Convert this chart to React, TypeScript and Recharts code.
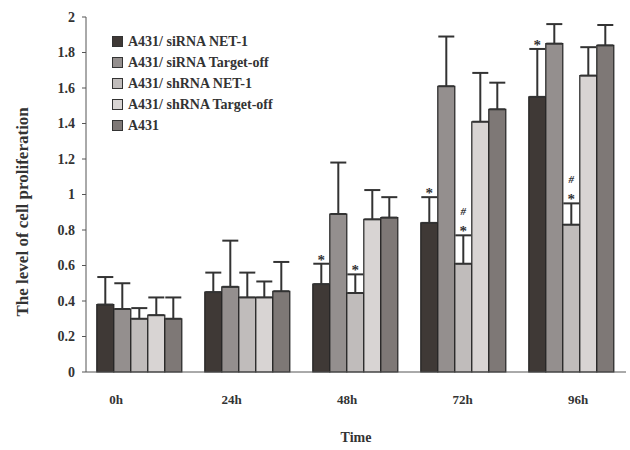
import React from 'react';
import { BarChart, Bar, XAxis, YAxis, ErrorBar, LabelList } from 'recharts';

const categories = ['0h', '24h', '48h', '72h', '96h'];
const seriesNames = [
  'A431/ siRNA NET-1',
  'A431/ siRNA Target-off',
  'A431/ shRNA NET-1',
  'A431/ shRNA Target-off',
  'A431',
];
const siNet1 = [0.38, 0.45, 0.495, 0.84, 1.55];
const siNet1Err = [0.155, 0.11, 0.115, 0.145, 0.27];
const siOff = [0.355, 0.48, 0.89, 1.61, 1.85];
const siOffErr = [0.145, 0.26, 0.29, 0.28, 0.11];
const shNet1 = [0.3, 0.42, 0.445, 0.61, 0.83];
const shNet1Err = [0.06, 0.14, 0.105, 0.16, 0.12];
const shOff = [0.32, 0.42, 0.86, 1.41, 1.67];
const shOffErr = [0.1, 0.09, 0.165, 0.275, 0.16];
const a431 = [0.3, 0.455, 0.87, 1.48, 1.84];
const a431Err = [0.12, 0.165, 0.115, 0.15, 0.115];
const siNet1Marks = ['', '', '*', '*', '*'];
const shNet1Marks = ['', '', '*', '*#', '*#'];
const yTicks = [0, 0.2, 0.4, 0.6, 0.8, 1, 1.2, 1.4, 1.6, 1.8, 2];

const colors = ['#3f3936', '#948f8e', '#c0bcbb', '#d8d4d3', '#7e7876'];

const means = [siNet1, siOff, shNet1, shOff, a431];
const errs = [siNet1Err, siOffErr, shNet1Err, shOffErr, a431Err];

const data = categories.map((c, i) => {
  const row: any = { name: c, m0: siNet1Marks[i], m2: shNet1Marks[i] };
  means.forEach((arr, s) => {
    row['s' + s] = arr[i];
    row['e' + s] = [0, errs[s][i]];
  });
  return row;
});

const FONT = '"Liberation Serif", "Times New Roman", serif';

const markRenderer = (valArr: number[], errArr: number[]) => (props: any) => {
  const { x, y, width, height, value, index } = props;
  if (!value) return null;
  const pxPerUnit = height / valArr[index];
  const capY = y - errArr[index] * pxPerUnit;
  const chars = String(value).split('');
  return (
    <g>
      {chars.map((ch, k) => (
        <text
          key={k}
          x={x + width / 2}
          y={ch === '*' ? capY + 1 : capY - 20}
          textAnchor="middle"
          fontFamily={FONT}
          fontWeight="bold"
          fontStyle={ch === '#' ? 'italic' : 'normal'}
          fontSize={ch === '*' ? 15 : 11}
          fill="#333"
          stroke="none"
        >
          {ch}
        </text>
      ))}
    </g>
  );
};

const XTick = (props: any) => {
  const { x, y, payload, index } = props;
  const shift = (index - 2) * 7.5 - 9;
  return (
    <text
      x={x + shift}
      y={y + 24}
      textAnchor="middle"
      fontFamily={FONT}
      fontWeight="bold"
      fontSize={13}
      fill="#333"
    >
      {payload.value}
    </text>
  );
};

const LegendBox = () => (
  <div
    style={{
      position: 'absolute',
      left: 112,
      top: 31,
      fontFamily: FONT,
      fontWeight: 'bold',
      fontSize: 14,
      color: '#333',
    }}
  >
    {seriesNames.map((n, i) => (
      <div key={n} style={{ display: 'flex', alignItems: 'center', height: 21 }}>
        <span
          style={{
            display: 'inline-block',
            width: 9,
            height: 9,
            background: colors[i],
            border: '1.5px solid #333',
            marginRight: 5,
          }}
        />
        <span>{n}</span>
      </div>
    ))}
  </div>
);

export default function App() {
  return (
    <div style={{ position: 'absolute', left: 0, top: 0, width: 630, height: 450, background: '#fff' }}>
      <BarChart
        width={630}
        height={450}
        data={data}
        margin={{ top: 17, right: 4, left: 0, bottom: 0 }}
        barGap={0}
        barCategoryGap="10%"
      >
        <XAxis
          dataKey="name"
          height={78}
          stroke="#555"
          tickLine={false}
          tick={<XTick />}
          label={{
            value: 'Time',
            position: 'insideBottom',
            offset: 8,
            style: { fontFamily: FONT, fontWeight: 'bold', fontSize: 14, fill: '#333' },
          }}
        />
        <YAxis
          width={86}
          domain={[0, 2]}
          ticks={yTicks}
          stroke="#555"
          tickSize={4}
          tickMargin={7}
          tick={{ fontFamily: FONT, fontWeight: 'bold', fontSize: 14, fill: '#333' }}
          label={{
            value: 'The level of cell proliferation',
            angle: -90,
            position: 'insideLeft',
            offset: 22,
            dy: 122,
            style: { fontFamily: FONT, fontWeight: 'bold', fontSize: 17, fill: '#333' },
          }}
        />
        {seriesNames.map((n, s) => (
          <Bar
            key={n}
            dataKey={'s' + s}
            name={n}
            fill={colors[s]}
            stroke="#222"
            strokeWidth={1.2}
            isAnimationActive={false}
          >
            <ErrorBar dataKey={'e' + s} width={8} stroke="#333" strokeWidth={2} direction="y" />
            {s === 0 && <LabelList dataKey="m0" content={markRenderer(means[0], errs[0])} />}
            {s === 2 && <LabelList dataKey="m2" content={markRenderer(means[2], errs[2])} />}
          </Bar>
        ))}
      </BarChart>
      <LegendBox />
    </div>
  );
}
